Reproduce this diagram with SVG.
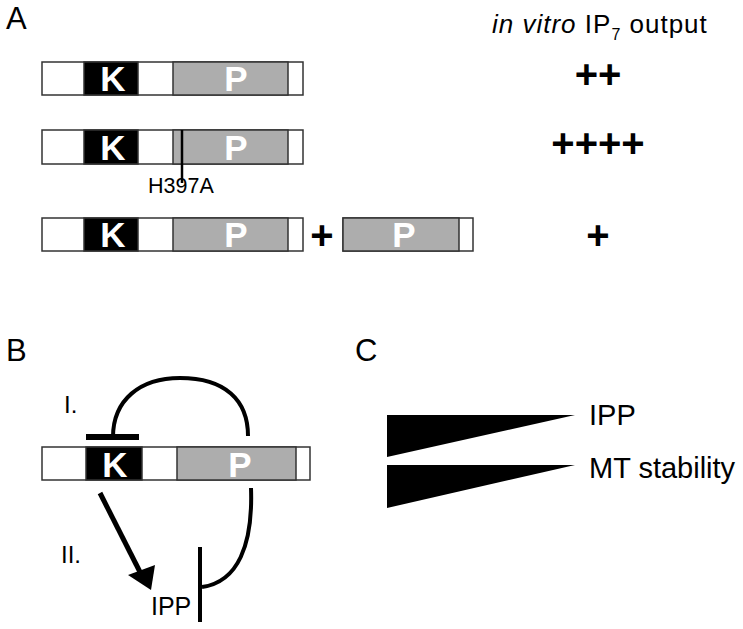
<svg xmlns="http://www.w3.org/2000/svg" width="743" height="629" viewBox="0 0 743 629">
<style>
text{font-family:"Liberation Sans",Arial,sans-serif;fill:#000}
.box{stroke:#333;stroke-width:1.5}
.w{fill:#fff}.k{fill:#000}.g{fill:#adadad}
.dom{font-size:35px;font-weight:bold;fill:#fff;text-anchor:middle}
.lab{font-size:31px}
.plus{font-size:40px;font-weight:bold;text-anchor:middle}
.t{font-size:25px}
.r{font-size:24px}
.c{font-size:29px}
.line{fill:none;stroke:#000;stroke-linecap:butt}
</style>
<rect width="743" height="629" fill="#fff"/>
<text class="lab" x="6" y="29">A</text>
<text x="492" y="33" font-size="26" letter-spacing="1"><tspan font-style="italic">in vitro</tspan> IP<tspan font-size="16" dy="7">7</tspan><tspan dy="-7"> output</tspan></text>

<g id="constructA1">
<rect class="box w" x="42" y="62" width="261" height="33"/>
<rect class="box k" x="84" y="62" width="54" height="33"/>
<rect class="box g" x="173" y="62" width="115" height="33"/>
<text class="dom" x="113" y="91">K</text>
<text class="dom" x="236" y="91">P</text>
</g>
<text class="plus" x="598" y="88">++</text>

<g id="constructA2">
<rect class="box w" x="42" y="130" width="261" height="34"/>
<rect class="box k" x="84" y="130" width="54" height="34"/>
<rect class="box g" x="173" y="130" width="115" height="34"/>
<text class="dom" x="113" y="160">K</text>
<text class="dom" x="236" y="160">P</text>
<line x1="182" y1="130" x2="182" y2="183" stroke="#000" stroke-width="2.5"/>
<text x="148" y="193" font-size="21.5">H397A</text>
</g>
<text class="plus" x="598" y="157">++++</text>

<g id="constructA3">
<rect class="box w" x="42" y="218" width="261" height="33"/>
<rect class="box k" x="84" y="218" width="54" height="33"/>
<rect class="box g" x="173" y="218" width="115" height="33"/>
<text class="dom" x="113" y="247">K</text>
<text class="dom" x="236" y="247">P</text>
</g>
<text class="plus" x="322" y="249">+</text>
<g id="constructA3P">
<rect class="box w" x="343" y="218" width="130" height="33"/>
<rect class="box g" x="343" y="218" width="116" height="33"/>
<text class="dom" x="404" y="247">P</text>
</g>
<text class="plus" x="598" y="249">+</text>

<text class="lab" x="6" y="361">B</text>
<g id="constructB">
<rect class="box w" x="42" y="447" width="268" height="33"/>
<rect class="box k" x="86" y="447" width="56" height="33"/>
<rect class="box g" x="177" y="447" width="119" height="33"/>
<text class="dom" x="115" y="477">K</text>
<text class="dom" x="240" y="477">P</text>
</g>
<g id="ippB">
<text class="t" x="151" y="615">IPP</text>
</g>
<g id="connectors">
<line class="line" x1="86" y1="437" x2="139" y2="437" stroke-width="6"/>
<path class="line" d="M113,437 C113,400 140,378 180,378 C225,378 248,400 248,436" stroke-width="4"/>
<line class="line" x1="100" y1="493" x2="140" y2="572" stroke-width="5"/>
<polygon points="128,575 155,565 151,590" fill="#000"/>
<line class="line" x1="200" y1="547" x2="200" y2="622" stroke-width="4"/>
<path class="line" d="M251,488 C253,545 238,582 202,587" stroke-width="4"/>
</g>
<text class="r" x="64" y="413">I.</text>
<text class="r" x="61" y="563">II.</text>

<text class="lab" x="355" y="361">C</text>
<g id="gradientIPP">
<polygon points="387,415 575,415 387,457" fill="#000"/>
<text class="c" x="589" y="425">IPP</text>
</g>
<g id="gradientMT">
<polygon points="387,465 575,465 387,508" fill="#000"/>
<text class="c" x="589" y="478">MT stability</text>
</g>
</svg>
